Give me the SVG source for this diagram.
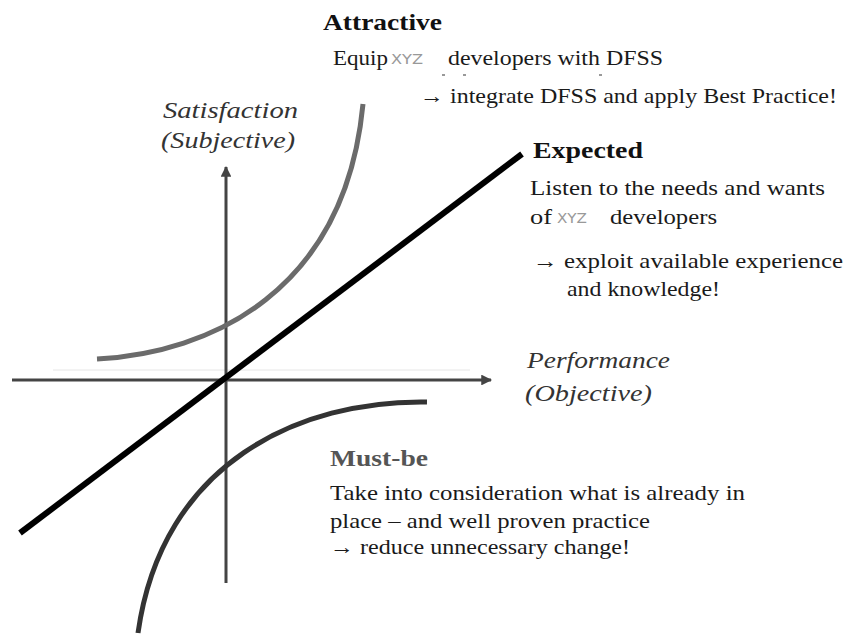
<svg xmlns="http://www.w3.org/2000/svg" width="857" height="637" viewBox="0 0 857 637">
<defs>
<marker id="arr" viewBox="0 0 10 10" refX="9" refY="5" markerWidth="4.5" markerHeight="3.6" orient="auto" markerUnits="strokeWidth"><path d="M0,0 L10,5 L0,10 z" fill="#444"/></marker>
<style>
.t{font-family:"Liberation Serif","Times New Roman",serif;font-size:22px;fill:#1a1a1a}
.h{font-family:"Liberation Serif","Times New Roman",serif;font-size:24px;font-weight:bold;fill:#111}
.i{font-family:"Liberation Serif","Times New Roman",serif;font-size:23px;font-style:italic;fill:#333}
.x{font-family:"DejaVu Sans Condensed","DejaVu Sans",sans-serif;font-size:14px;fill:#999}
.axis{stroke:#444;stroke-width:3;fill:none}
</style>
</defs>
<rect width="857" height="637" fill="#fff"/>
<g id="connectors">
<line x1="53" y1="370" x2="470" y2="370" stroke="#e6e6e6" stroke-width="1"/>
<line class="axis" x1="12" y1="380" x2="491" y2="380" marker-end="url(#arr)"/>
<line class="axis" x1="226" y1="583" x2="226" y2="167" marker-end="url(#arr)"/>
</g>
<g id="attractive-curve"><path d="M97,359 C210,353 345,292 363,104" fill="none" stroke="#6b6b6b" stroke-width="5"/></g>
<g id="expected-line"><line x1="20" y1="533" x2="522" y2="154" stroke="#000" stroke-width="6"/></g>
<g id="mustbe-curve"><path d="M427,402 C300,400 162,462 138,633" fill="none" stroke="#333" stroke-width="5"/></g>
<g id="y-label">
<text class="i" x="163" y="118" textLength="135" lengthAdjust="spacingAndGlyphs">Satisfaction</text>
<text class="i" x="161" y="148" textLength="134" lengthAdjust="spacingAndGlyphs">(Subjective)</text>
</g>
<g id="x-label">
<text class="i" x="527" y="368" textLength="143" lengthAdjust="spacingAndGlyphs">Performance</text>
<text class="i" x="525" y="401" textLength="127" lengthAdjust="spacingAndGlyphs">(Objective)</text>
</g>
<g id="attractive">
<text class="h" x="323" y="30" textLength="119" lengthAdjust="spacingAndGlyphs">Attractive</text>
<text class="t" x="333" y="65" textLength="55" lengthAdjust="spacingAndGlyphs">Equip</text>
<text class="x" x="391" y="64" textLength="32" lengthAdjust="spacingAndGlyphs">XYZ</text>
<text class="t" x="448" y="65" textLength="215" lengthAdjust="spacingAndGlyphs">developers with DFSS</text>
<g stroke="#777" stroke-width="1.5"><line x1="442" y1="75" x2="445" y2="75"/><line x1="463" y1="75" x2="466" y2="75"/><line x1="599" y1="75" x2="602" y2="75"/></g>
<text class="t" x="420" y="103" textLength="417" lengthAdjust="spacingAndGlyphs">→ integrate DFSS and apply Best Practice!</text>
</g>
<g id="expected">
<text class="h" x="533" y="158" textLength="110" lengthAdjust="spacingAndGlyphs">Expected</text>
<text class="t" x="530" y="195" textLength="295" lengthAdjust="spacingAndGlyphs">Listen to the needs and wants</text>
<text class="t" x="530" y="224" textLength="22" lengthAdjust="spacingAndGlyphs">of</text>
<text class="x" x="557" y="223" textLength="30" lengthAdjust="spacingAndGlyphs">XYZ</text>
<text class="t" x="610" y="224" textLength="107" lengthAdjust="spacingAndGlyphs">developers</text>
<text class="t" x="533" y="268" textLength="310" lengthAdjust="spacingAndGlyphs">→ exploit available experience</text>
<text class="t" x="567" y="296" textLength="153" lengthAdjust="spacingAndGlyphs">and knowledge!</text>
</g>
<g id="mustbe">
<text class="h" x="330" y="466" textLength="98" lengthAdjust="spacingAndGlyphs" style="fill:#555">Must-be</text>
<text class="t" x="330" y="500" textLength="415" lengthAdjust="spacingAndGlyphs">Take into consideration what is already in</text>
<text class="t" x="330" y="528" textLength="320" lengthAdjust="spacingAndGlyphs">place – and well proven practice</text>
<text class="t" x="330" y="554" textLength="300" lengthAdjust="spacingAndGlyphs">→ reduce unnecessary change!</text>
</g>
</svg>
